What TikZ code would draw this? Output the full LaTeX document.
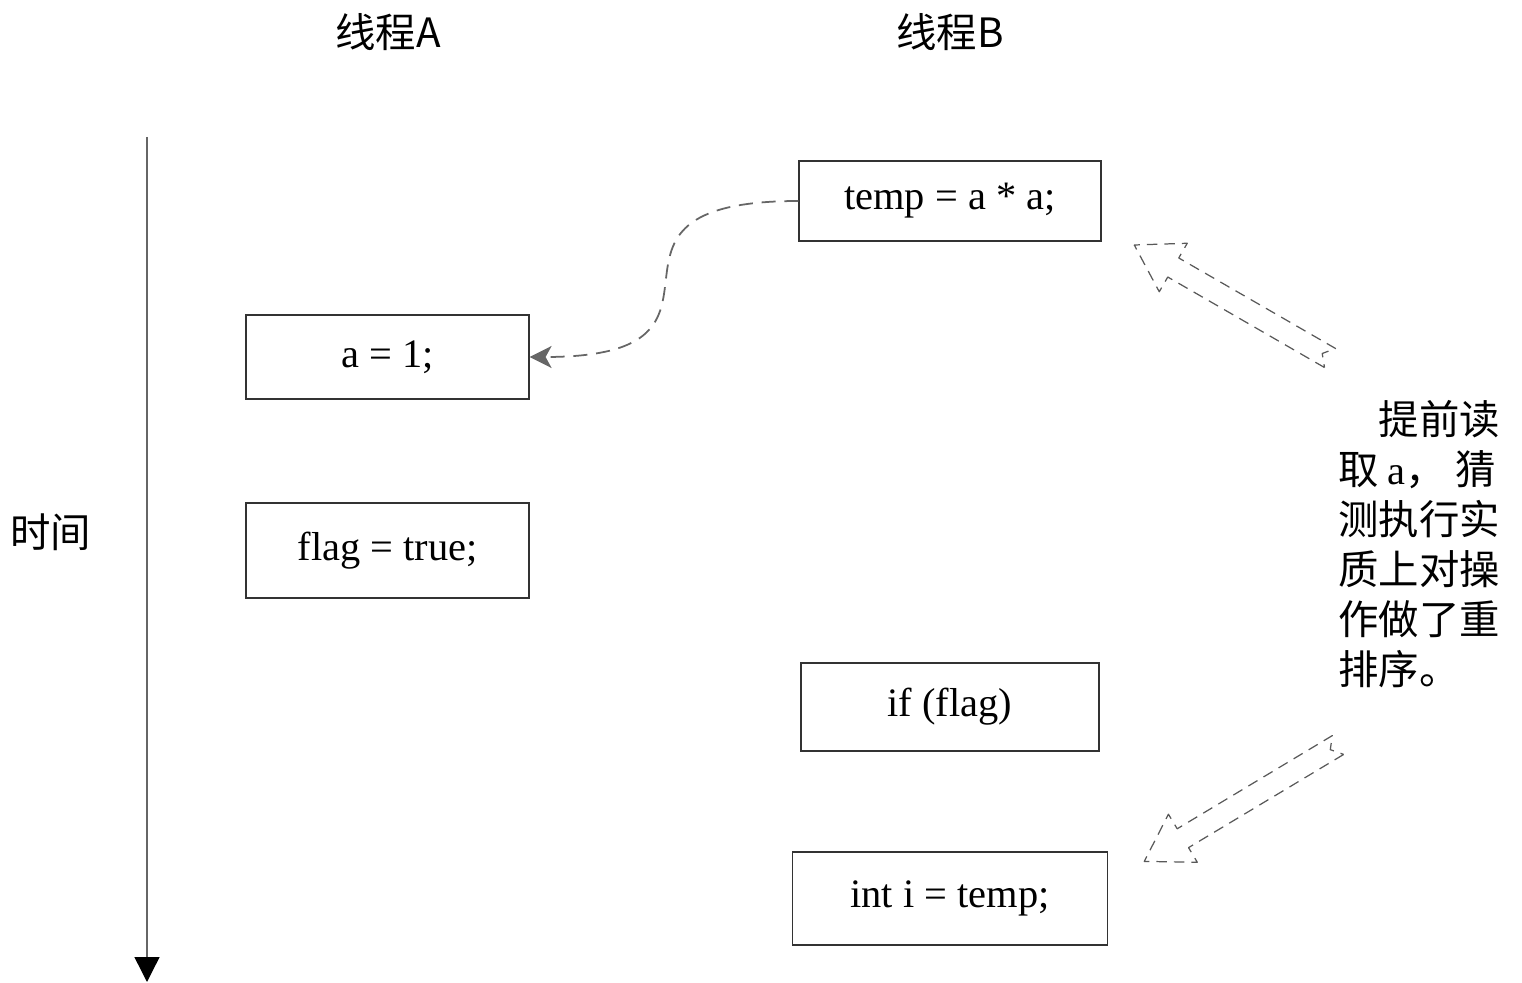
\documentclass[tikz,border=0pt]{standalone}
\usepackage{fontspec}
\setmainfont{Liberation Serif}
\newfontfamily\cjk{Noto Sans CJK SC}
\usetikzlibrary{arrows.meta}

\begin{document}
\begin{tikzpicture}[x=0.02cm,y=-0.02cm,
	box/.style={draw=black!80, line width=0.7pt, inner sep=0pt, font=\fontsize{23}{27}\selectfont},
	title/.style={font=\cjk\fontsize{23}{27}\selectfont},
	hollow/.style={draw=black!65, line width=0.7pt, dash pattern=on 6pt off 4pt, line join=round}]
	\useasboundingbox (0,0) rectangle (1522,983);
	% time axis
	\coordinate (ttop) at (147,137);
	\coordinate (tbot) at (147,982);
	\draw[black!60, line width=0.8pt, -{Triangle[black,length=0.5cm,width=0.5cm]}] (ttop) -- (tbot);
	\node[title] (time) at (51,532) {时间};
	\node[title] (thA) at (388,32) {线程A};
	\node[title] (thB) at (950,32) {线程B};
	% boxes
	\node[box, minimum width=6.04cm, minimum height=1.6cm] (temp) at (950,201) {temp = a * a;};
	\node[box, minimum width=5.66cm, minimum height=1.68cm] (a1) at (387.5,357) {a = 1;};
	\node[box, minimum width=5.66cm, minimum height=1.9cm] (flag) at (387.5,550.5) {flag = true;};
	\node[box, minimum width=5.96cm, minimum height=1.76cm] (ifflag) at (950,707) {if (flag)};
	\node[box, minimum width=6.3cm, minimum height=1.86cm] (inti) at (950,898.5) {int i = temp;};
	\draw[black!60, line width=1pt, dash pattern=on 8pt off 5pt, -{Stealth[length=0.44cm,width=0.44cm,inset=0.12cm]}]
		(temp.west) to[out=180,in=0,looseness=2] (a1.east);
	% hollow arrows
	\begin{scope}[shift={(1330,358)}, rotate=150]
		\draw[hollow] (0,-11) -- (181,-11) -- (181,-28) -- (226,0) -- (181,28) -- (181,11) -- (0,11) -- (9,0) -- cycle;
	\end{scope}
	\begin{scope}[shift={(1338,745)}, rotate=211]
		\draw[hollow] (0,-11) -- (181,-11) -- (181,-28) -- (226,0) -- (181,28) -- (181,11) -- (0,11) -- (9,0) -- cycle;
	\end{scope}
	\node[align=left, font=\cjk\fontsize{23}{28.5}\selectfont] (note) at (1419,544)
		{　提前读\\取 {\rmfamily a}， 猜\\测执行实\\质上对操\\作做了重\\排序。};
\end{tikzpicture}
\end{document}
